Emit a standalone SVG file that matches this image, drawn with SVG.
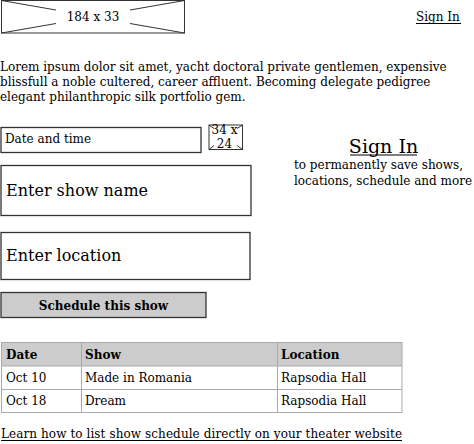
<svg xmlns="http://www.w3.org/2000/svg" width="474" height="444" viewBox="0 0 474 444">
<style>
text{font-family:"DejaVu Serif","Liberation Serif",serif;fill:#000;}
.s{font-size:12px;}
.m{font-size:16px;}
.b{font-weight:bold;}
.box{fill:#fff;stroke:#333;stroke-width:1.3;}
.img{fill:none;stroke:#333;stroke-width:1;}
.tb{stroke:#aaa;stroke-width:1;fill:none;}
.ul{stroke:#000;stroke-width:1;}
</style>
<rect width="474" height="444" fill="#fff"/>
<g id="logo">
<rect class="img" x="1.5" y="0.5" width="183" height="32.5"/>
<line class="img" x1="1.5" y1="0.5" x2="56" y2="10"/>
<line class="img" x1="184.5" y1="33" x2="130" y2="23.5"/>
<line class="img" x1="184.5" y1="0.5" x2="130" y2="10"/>
<line class="img" x1="1.5" y1="33" x2="56" y2="23.5"/>
<text class="s" x="93" y="21" text-anchor="middle">184 x 33</text>
</g>
<g id="signin-top">
<text class="s" x="416" y="21">Sign In</text>
<line class="ul" x1="416" y1="23.5" x2="461" y2="23.5"/>
</g>
<g id="intro">
<text class="s" x="0" y="71">Lorem ipsum dolor sit amet, yacht doctoral private gentlemen, expensive</text>
<text class="s" x="0" y="86">blissfull a noble cultered, career affluent. Becoming delegate pedigree</text>
<text class="s" x="0" y="100.5">elegant philanthropic silk portfolio gem.</text>
</g>
<g id="date">
<rect class="box" x="1" y="127.5" width="200" height="25"/>
<text class="s" x="5" y="142.5">Date and time</text>
</g>
<g id="calendar">
<rect class="img" x="209" y="125" width="33.5" height="24.5"/>
<line class="img" x1="209" y1="125" x2="214" y2="128.5"/>
<line class="img" x1="242.5" y1="149.5" x2="237" y2="145.5"/>
<line class="img" x1="242.5" y1="125" x2="237" y2="128.5"/>
<line class="img" x1="209" y1="149.5" x2="214" y2="145.5"/>
<text class="s" x="224.5" y="133.5" text-anchor="middle">34 x</text>
<text class="s" x="224.5" y="147.5" text-anchor="middle">24</text>
</g>
<g id="showname">
<rect class="box" x="1" y="165.5" width="250" height="50"/>
<text class="m" x="6" y="196">Enter show name</text>
</g>
<g id="location">
<rect class="box" x="1" y="232.5" width="249" height="47"/>
<text class="m" x="6" y="261">Enter location</text>
</g>
<g id="schedule">
<rect x="1" y="292.5" width="205" height="25" fill="#ccc" stroke="#333" stroke-width="1.3"/>
<text class="s b" x="103.5" y="309.5" text-anchor="middle">Schedule this show</text>
</g>
<g id="signin-panel">
<text x="383.5" y="153" font-size="19" text-anchor="middle">Sign In</text>
<line class="ul" x1="350" y1="155" x2="417" y2="155"/>
<text class="s" x="294" y="168.5">to permanently save shows,</text>
<text class="s" x="294" y="185">locations, schedule and more</text>
</g>
<g id="table">
<rect x="1" y="342.5" width="401" height="23.5" fill="#ccc"/>
<rect class="tb" x="1.5" y="342.5" width="400.5" height="70"/>
<line class="tb" x1="1.5" y1="366" x2="402" y2="366" stroke="#888"/>
<line class="tb" x1="1.5" y1="389.5" x2="402" y2="389.5"/>
<line class="tb" x1="81.5" y1="342.5" x2="81.5" y2="412.5"/>
<line class="tb" x1="277.5" y1="342.5" x2="277.5" y2="412.5"/>
<text class="s b" x="6" y="358.5">Date</text>
<text class="s b" x="85" y="358.5">Show</text>
<text class="s b" x="281" y="358.5">Location</text>
<text class="s" x="6" y="382">Oct 10</text>
<text class="s" x="85" y="382">Made in Romania</text>
<text class="s" x="281" y="382">Rapsodia Hall</text>
<text class="s" x="6" y="404.5">Oct 18</text>
<text class="s" x="85" y="404.5">Dream</text>
<text class="s" x="281" y="404.5">Rapsodia Hall</text>
</g>
<g id="learn">
<text class="s" x="1" y="437.5" textLength="401">Learn how to list show schedule directly on your theater website</text>
<line class="ul" x1="1" y1="440.5" x2="402" y2="440.5"/>
</g>
</svg>
